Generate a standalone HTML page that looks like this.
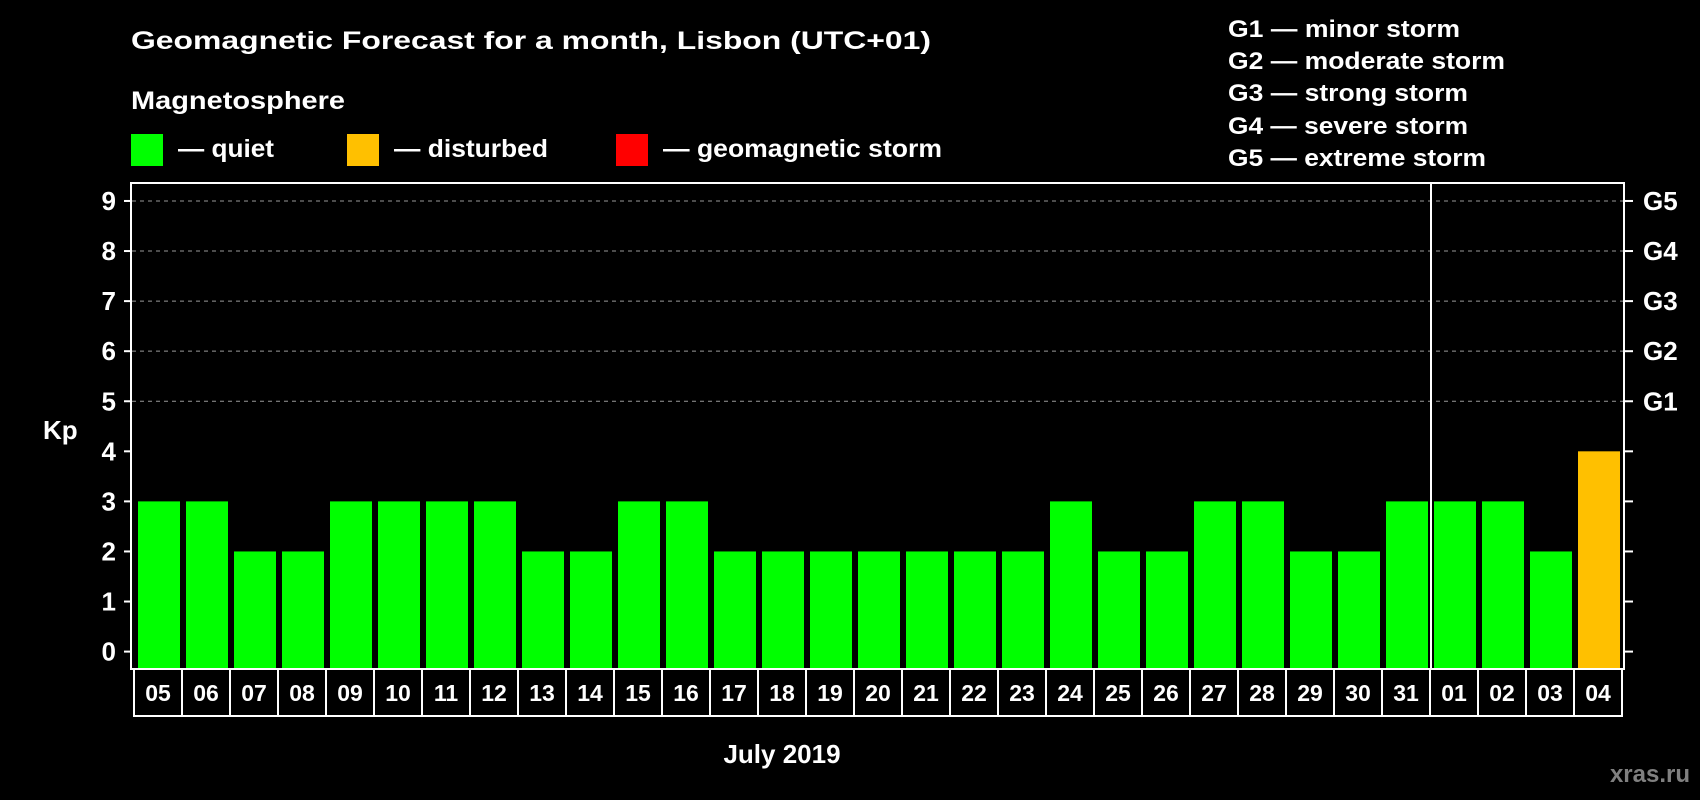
<!DOCTYPE html>
<html><head><meta charset="utf-8"><style>
html,body{margin:0;padding:0;background:#000;width:1700px;height:800px;overflow:hidden}
svg text{font-family:"Liberation Sans",sans-serif;font-weight:bold;fill:#fff}
</style></head><body>
<svg id="chart" width="1700" height="800" viewBox="0 0 1700 800" xmlns="http://www.w3.org/2000/svg">
<rect width="1700" height="800" fill="#000"/>
<text x="131" y="49" font-size="25" textLength="800" lengthAdjust="spacingAndGlyphs">Geomagnetic Forecast for a month, Lisbon (UTC+01)</text>
<text x="131" y="109" font-size="25" textLength="214" lengthAdjust="spacingAndGlyphs">Magnetosphere</text>
<g><rect x="131" y="134" width="32" height="32" fill="#00ff00"/><text x="178" y="157" font-size="25" textLength="96" lengthAdjust="spacingAndGlyphs">— quiet</text></g>
<g><rect x="347" y="134" width="32" height="32" fill="#ffc000"/><text x="394" y="157" font-size="25" textLength="154" lengthAdjust="spacingAndGlyphs">— disturbed</text></g>
<g><rect x="616" y="134" width="32" height="32" fill="#ff0000"/><text x="663" y="157" font-size="25" textLength="279" lengthAdjust="spacingAndGlyphs">— geomagnetic storm</text></g>
<g font-size="24">
<text x="1228" y="37" textLength="232" lengthAdjust="spacingAndGlyphs">G1 — minor storm</text>
<text x="1228" y="69" textLength="277" lengthAdjust="spacingAndGlyphs">G2 — moderate storm</text>
<text x="1228" y="101" textLength="240" lengthAdjust="spacingAndGlyphs">G3 — strong storm</text>
<text x="1228" y="134" textLength="240" lengthAdjust="spacingAndGlyphs">G4 — severe storm</text>
<text x="1228" y="166" textLength="258" lengthAdjust="spacingAndGlyphs">G5 — extreme storm</text>
</g>
<text x="43" y="439" font-size="26">Kp</text>
<g id="grid"></g>
<g id="bars"></g>
<g id="xlabels"></g>
<rect x="131" y="183" width="1493" height="486" fill="none" stroke="#fff" stroke-width="2"/>
<line x1="1431" y1="183" x2="1431" y2="669" stroke="#fff" stroke-width="2"/>
<text x="782" y="763" font-size="26" text-anchor="middle">July 2019</text>
<text x="1690" y="782" font-size="24" text-anchor="end" style="fill:#808080">xras.ru</text>
</svg>
<script>
const days = ["05","06","07","08","09","10","11","12","13","14","15","16","17","18","19","20","21","22","23","24","25","26","27","28","29","30","31","01","02","03","04"];
const kpValues = [3,3,2,2,3,3,3,3,2,2,3,3,2,2,2,2,2,2,2,3,2,2,3,3,2,2,3,3,3,2,4];
const yTicks = [0,1,2,3,4,5,6,7,8,9];
const gLabels = ["G1","G2","G3","G4","G5"];
const NS = "http://www.w3.org/2000/svg";
const y0 = 651.6, unit = 50.07, x0 = 134, pitch = 48;
function yScale(v){ return y0 - v*unit; }
function xScale(i){ return x0 + i*pitch; }
function colorFor(v){ return v >= 5 ? "#ff0000" : (v >= 4 ? "#ffc000" : "#00ff00"); }
function mk(tag, attrs, parent){ const e = document.createElementNS(NS, tag); for (const k in attrs) e.setAttribute(k, attrs[k]); parent.appendChild(e); return e; }
const grid = document.getElementById("grid");
yTicks.forEach(function(t){
  const y = yScale(t);
  const tk = mk("line", {x1:124, x2:131, y1:y, y2:y, stroke:"#fff", "stroke-width":2}, grid);
  
  
  const rt = mk("line", {x1:1624, x2:1633, y1:y, y2:y, stroke:"#fff", "stroke-width":2}, grid);
  
  
  const lb = mk("text", {x:116, y:y+9, "font-size":26, "text-anchor":"end"}, grid);
  lb.textContent = t;
  
  
  if (t >= 5) {
    const gl = mk("line", {x1:132, x2:1623, y1:y, y2:y, stroke:"#999", "stroke-width":1, "stroke-dasharray":"4,4"}, grid);
    
    
    const g = mk("text", {x:1643, y:y+9, "font-size":26}, grid);
    g.textContent = gLabels[t-5];
    
    
  }
});
const bars = document.getElementById("bars");
const xl = document.getElementById("xlabels");
kpValues.forEach(function(v, i){
  const b = mk("rect", {x:xScale(i)+4, y:yScale(v), width:42, height:669-yScale(v), fill:colorFor(v)}, bars);
  
  
  const c = mk("rect", {x:xScale(i), y:669, width:pitch, height:47, fill:"none", stroke:"#fff", "stroke-width":2}, xl);
  
  
  const t = mk("text", {x:xScale(i)+pitch/2, y:701, "font-size":23, "text-anchor":"middle"}, xl);
  t.textContent = days[i];
  
  
});
</script>
</body></html>
